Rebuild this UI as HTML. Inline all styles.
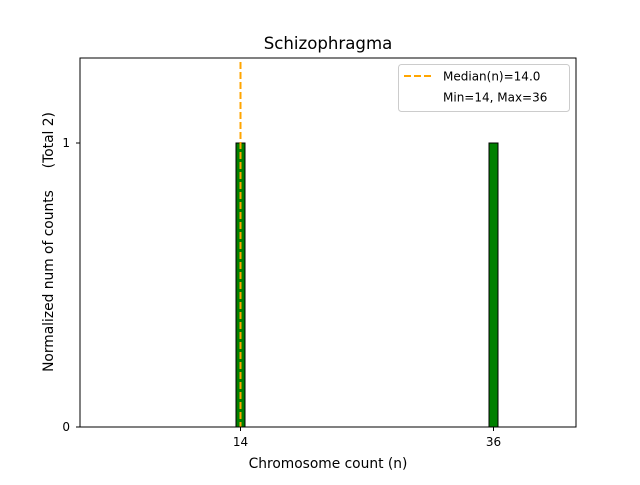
<!DOCTYPE html>
<html><head><style>body{margin:0;background:#fff}</style></head><body>
<svg width="640" height="480" xmlns="http://www.w3.org/2000/svg" font-family="'DejaVu Sans', sans-serif">
<rect width="640" height="480" fill="#fff"/>
<rect x="236" y="143" width="9" height="284" fill="green" stroke="#000" stroke-width="1"/>
<rect x="489" y="143" width="9" height="284" fill="green" stroke="#000" stroke-width="1"/>
<line x1="240.5" y1="62" x2="240.5" y2="427" stroke="orange" stroke-width="2" stroke-dasharray="7,3"/>
<rect x="80" y="58" width="496" height="369" fill="none" stroke="#000" stroke-width="1"/>
<g stroke="#000"><line x1="240.5" y1="427" x2="240.5" y2="431"/><line x1="493.5" y1="427" x2="493.5" y2="431"/>
<line x1="76" y1="427" x2="80" y2="427"/><line x1="76" y1="143" x2="80" y2="143"/></g>
<g font-size="12" fill="#000">
<text x="240.5" y="446" text-anchor="middle">14</text>
<text x="493.5" y="446" text-anchor="middle">36</text>
<text x="70" y="431" text-anchor="end">0</text>
<text x="70" y="147" text-anchor="end">1</text>
<text x="328" y="468" text-anchor="middle" font-size="13.8">Chromosome count (n)</text>
<text transform="translate(53,242) rotate(-90)" text-anchor="middle" font-size="13.8" xml:space="preserve">Normalized num of counts     (Total 2)</text>
<text x="328" y="49" text-anchor="middle" font-size="16.6">Schizophragma</text>
</g>
<rect x="398.5" y="64.5" width="171" height="47" rx="3" fill="#fff" fill-opacity="0.8" stroke="#ccc"/>
<line x1="404" y1="76" x2="432" y2="76" stroke="orange" stroke-width="2" stroke-dasharray="7,3"/>
<text x="443" y="80.5" font-size="12">Median(n)=14.0</text>
<text x="443" y="101.5" font-size="12">Min=14, Max=36</text>
</svg>
</body></html>
